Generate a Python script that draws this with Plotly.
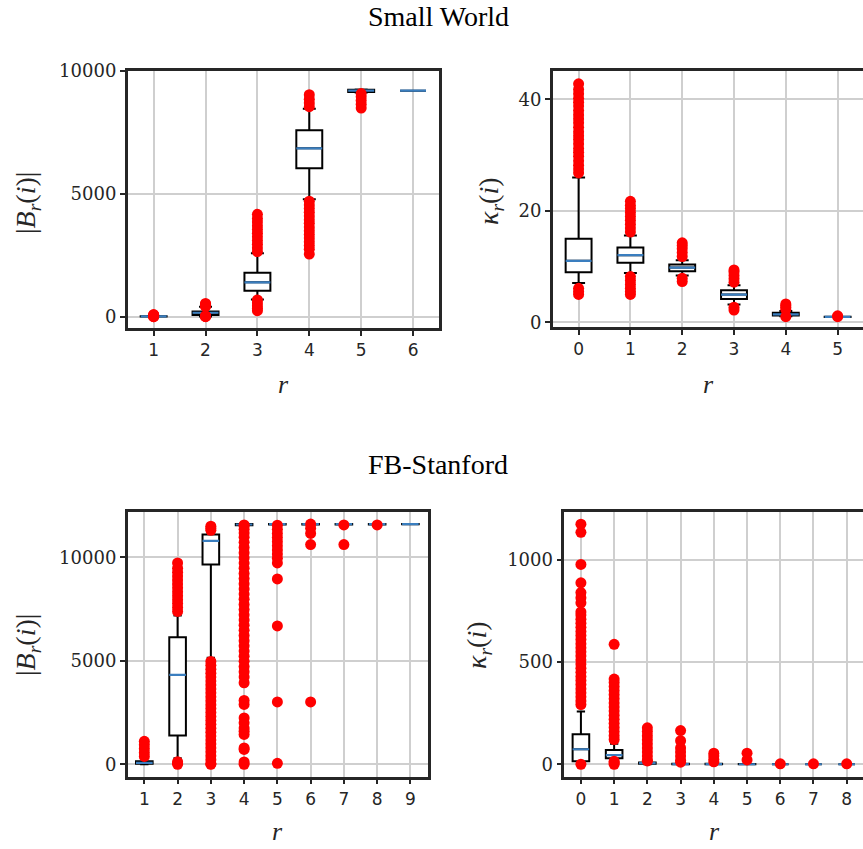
import plotly.graph_objects as go

# ---------------- data ----------------
# Small World, |B_r(i)|
sw_b_r = [1, 2, 3, 4, 5, 6]
sw_b_q1 = [8, 70, 1058, 6038, 9150, 9200]
sw_b_med = [12, 160, 1397, 6852, 9200, 9200]
sw_b_q3 = [16, 210, 1791, 7585, 9240, 9200]
sw_b_lo = [3, 5, 705, 4776, 9120, 9200]
sw_b_hi = [25, 400, 2578, 8467, 9250, 9200]
sw_b_out = [
    [0, 1, 30, 50, 70, 85],
    [0, 10, 20, 30, 420, 450, 480, 510, 540],
    [680, 560, 440, 330, 244, 2650, 2800, 2950, 3100, 3250, 3400, 3550, 3700, 3850, 4000, 4165],
    [8550, 8700, 8850, 9037, 4700, 4550, 4400, 4250, 4100, 3950, 3800, 3650, 3500, 3350,
     3200, 3050, 2900, 2750, 2551],
    [9080, 8950, 8800, 8650, 8494],
    [],
]

# Small World, kappa_r(i)
sw_k_r = [0, 1, 2, 3, 4, 5]
sw_k_q1 = [8.98, 10.66, 9.16, 4.19, 1.2, 0.93]
sw_k_med = [11.02, 12.04, 9.82, 4.97, 1.4, 0.95]
sw_k_q3 = [14.97, 13.4, 10.36, 5.75, 1.7, 0.97]
sw_k_lo = [7.07, 8.86, 8.38, 3.17, 1.1, 0.93]
sw_k_hi = [26.0, 15.57, 11.14, 6.65, 2.0, 0.97]
sw_k_out = [
    [6.1, 5.5, 5.0, 26.8, 27.5, 28.2, 29.0, 29.8, 30.5, 31.2, 32.0, 32.8, 33.5, 34.2, 35.0,
     35.8, 36.5, 37.2, 38.0, 38.8, 39.5, 40.2, 41.0, 41.8, 42.8],
    [8.2, 7.5, 6.8, 6.1, 5.5, 5.0, 16.2, 16.9, 17.6, 18.3, 19.0, 19.7, 20.4, 21.0, 21.7],
    [7.9, 7.3, 11.8, 12.5, 13.2, 13.8, 14.25],
    [2.7, 2.2, 7.2, 7.8, 8.4, 9.0, 9.4],
    [1.0, 2.3, 2.7, 3.0, 3.3],
    [1.0, 1.15],
]

# FB-Stanford, |B_r(i)|
fb_b_r = [1, 2, 3, 4, 5, 6, 7, 8, 9]
fb_b_q1 = [20, 1385, 9646, 11540, 11580, 11580, 11580, 11580, 11590]
fb_b_med = [70, 4316, 10789, 11580, 11600, 11600, 11600, 11600, 11600]
fb_b_q3 = [150, 6135, 11095, 11600, 11610, 11610, 11610, 11610, 11610]
fb_b_lo = [0, 290, 5150, 11500, 11570, 11570, 11570, 11570, 11590]
fb_b_hi = [330, 7182, 11200, 11620, 11620, 11620, 11620, 11620, 11610]
fb_b_out = [
    [380, 560, 750, 940, 1111],
    [0, 60, 120, 7380, 7570, 7760, 7950, 8140, 8330, 8520, 8710, 8900, 9090, 9280, 9470, 9726],
    [11300, 11400, 11500, 4966, 4780, 4590, 4400, 4210, 4020, 3830, 3640, 3450, 3260, 3070,
     2880, 2690, 2500, 2310, 2120, 1930, 1740, 1550, 1360, 1170, 980, 790, 600, 410, 220, 30, 0],
    [11560, 11520, 11350, 11170, 10971, 10720, 10470, 10220, 9970, 9720, 9470, 9220, 8970,
     8720, 8470, 8220, 7970, 7720, 7470, 7220, 6970, 6720, 6470, 6220, 5970, 5720, 5470,
     5220, 4970, 4720, 4470, 4220, 3937, 3080, 2890, 2236, 2000, 1750, 1600, 1440, 787, 715, 110, 0],
    [11550, 11350, 11150, 10950, 10750, 10550, 10350, 10150, 9950, 9725, 8953, 6683, 3011, 48],
    [11600, 11400, 11150, 10611, 3011],
    [11560, 10611],
    [11560],
    [],
]

# FB-Stanford, kappa_r(i)
fb_k_r = [0, 1, 2, 3, 4, 5, 6, 7, 8]
fb_k_q1 = [14.7, 29, 2, 0, 0, 0, 0, 0, 0]
fb_k_med = [73.4, 45, 5, 1, 1, 0, 0, 0, 0]
fb_k_q3 = [147, 70, 8, 2, 2, 1, 0, 0, 0]
fb_k_lo = [2, 20, 0, 0, 0, 0, 0, 0, 0]
fb_k_hi = [258, 100, 15, 5, 5, 2, 0, 0, 0]
fb_k_out = [
    [0, 292, 310, 330, 350, 370, 390, 410, 430, 450, 470, 490, 510, 530, 550, 570, 590, 610,
     630, 650, 670, 690, 710, 730, 745, 790, 815, 840, 888, 978, 1135, 1175],
    [0, 8, 15, 121, 140, 160, 180, 200, 220, 240, 260, 280, 300, 320, 340, 360, 380, 400, 417, 587],
    [16, 20, 40, 60, 80, 100, 120, 140, 160, 178],
    [10, 20, 40, 60, 80, 115, 165],
    [12, 25, 40, 54],
    [21, 54],
    [2],
    [2],
    [2],
]

titles = ["Small World", "FB-Stanford"]
r_ticks_sw_b = [1, 2, 3, 4, 5, 6]
r_ticks_sw_k = [0, 1, 2, 3, 4, 5]
r_ticks_fb_b = [1, 2, 3, 4, 5, 6, 7, 8, 9]
r_ticks_fb_k = [0, 1, 2, 3, 4, 5, 6, 7, 8]

# ---------------- figure ----------------
W, H = 863, 849
RED = "#ff0000"
BLUE = "#3a7ebf"
DARK = "#262626"
GRID = "#cfcfcf"

fig = go.Figure()

panels = [
    ("x", "y", sw_b_r, sw_b_q1, sw_b_med, sw_b_q3, sw_b_lo, sw_b_hi, sw_b_out),
    ("x2", "y2", sw_k_r, sw_k_q1, sw_k_med, sw_k_q3, sw_k_lo, sw_k_hi, sw_k_out),
    ("x3", "y3", fb_b_r, fb_b_q1, fb_b_med, fb_b_q3, fb_b_lo, fb_b_hi, fb_b_out),
    ("x4", "y4", fb_k_r, fb_k_q1, fb_k_med, fb_k_q3, fb_k_lo, fb_k_hi, fb_k_out),
]

for xa, ya, rr, q1, med, q3, lo, hi, outs in panels:
    ox, oy = [], []
    for r, vals in zip(rr, outs):
        ox.extend([r] * len(vals))
        oy.extend(vals)
    fig.add_trace(go.Scatter(x=ox, y=oy, mode="markers", xaxis=xa, yaxis=ya,
                             marker=dict(color=RED, size=11, line=dict(width=0)),
                             showlegend=False, hoverinfo="skip"))
    fig.add_trace(go.Box(x=rr, q1=q1, median=med, q3=q3, lowerfence=lo, upperfence=hi,
                         xaxis=xa, yaxis=ya, width=0.5, whiskerwidth=0.5,
                         line=dict(color="black", width=2), fillcolor="white",
                         boxpoints=False, showlegend=False, hoverinfo="skip"))
    fig.add_trace(go.Box(x=rr, q1=med, median=med, q3=med, lowerfence=med, upperfence=med,
                         xaxis=xa, yaxis=ya, width=0.5, whiskerwidth=0,
                         line=dict(color=BLUE, width=2.2), fillcolor="rgba(0,0,0,0)",
                         boxpoints=False, showlegend=False, hoverinfo="skip"))

def xd(a, b):
    return [a / W, min(b / W, 1.0)]

def yd(top, bottom):
    return [1 - bottom / H, 1 - top / H]

axis_common = dict(showline=True, mirror=True, linecolor=DARK, linewidth=2.5,
                   showgrid=True, gridcolor=GRID, gridwidth=1.6, zeroline=False,
                   ticks="outside", ticklen=5, tickwidth=1.6, tickcolor=DARK,
                   automargin=False, tickformat="d")
xfont = dict(family="DejaVu Sans", size=17, color=DARK)
yfont = dict(family="DejaVu Serif", size=18, color=DARK)

fig.update_layout(
    width=W, height=H, margin=dict(l=0, r=0, t=0, b=0),
    paper_bgcolor="white", plot_bgcolor="white",
    xaxis=dict(domain=xd(127.7, 439), anchor="y", range=[0.5, 6.5], tickvals=r_ticks_sw_b,
               tickfont=xfont, **axis_common),
    yaxis=dict(domain=yd(71, 328), anchor="x", range=[-460, 10000], tickvals=[0, 5000, 10000],
               tickfont=yfont, **axis_common),
    xaxis2=dict(domain=xd(552.7, 863), anchor="y2", range=[-0.5, 5.49], tickvals=r_ticks_sw_k,
                tickfont=xfont, **axis_common),
    yaxis2=dict(domain=yd(71, 327), anchor="x2", range=[-0.85, 45.1], tickvals=[0, 20, 40],
                tickfont=yfont, **axis_common),
    xaxis3=dict(domain=xd(127.7, 427.7), anchor="y3", range=[0.5, 9.52], tickvals=r_ticks_fb_b,
                tickfont=xfont, **axis_common),
    yaxis3=dict(domain=yd(512.3, 776.7), anchor="x3", range=[-600, 12170],
                tickvals=[0, 5000, 10000], tickfont=yfont, **axis_common),
    xaxis4=dict(domain=xd(564.3, 863), anchor="y4", range=[-0.5, 8.49], tickvals=r_ticks_fb_k,
                tickfont=xfont, **axis_common),
    yaxis4=dict(domain=yd(512.3, 776.7), anchor="x4", range=[-61, 1233], tickvals=[0, 500, 1000],
                tickfont=yfont, **axis_common),
)

serif = "Liberation Serif"
ann = []
common_ann = dict(xref="paper", yref="paper", showarrow=False, xanchor="center", yanchor="middle")
ann.append(dict(text=titles[0], x=438 / W, y=1 - 16 / H,
                font=dict(family=serif, size=28, color="black"), **common_ann))
ann.append(dict(text=titles[1], x=438 / W, y=1 - 464 / H,
                font=dict(family=serif, size=28, color="black"), **common_ann))
lab_font = dict(family=serif, size=28, color=DARK)
r_font = dict(family=serif, size=26, color=DARK)
B_lab = "|<i>B<sub>r</sub></i>(<i>i</i>)|"
K_lab = "<i>κ<sub>r</sub></i>(<i>i</i>)"
for txt, x, y in [(B_lab, 27, 203), (K_lab, 490, 201), (B_lab, 27, 645), (K_lab, 478, 645)]:
    ann.append(dict(text=txt, x=x / W, y=1 - y / H, textangle=-90, font=lab_font, **common_ann))
for x, y in [(283, 384), (708, 384), (277, 831), (714, 831)]:
    ann.append(dict(text="<i>r</i>", x=x / W, y=1 - y / H, font=r_font, **common_ann))
fig.update_layout(annotations=ann)

fig.write_html("out.html", config={"displayModeBar": False},
               post_script="document.body.style.margin='0';document.body.style.overflow='hidden';")
